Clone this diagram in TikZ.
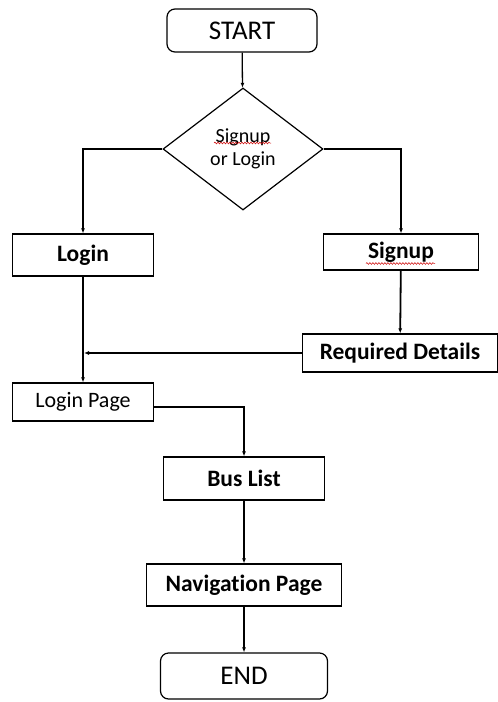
\documentclass[tikz,border=0pt]{standalone}
\usepackage{fontspec}
\setmainfont{Carlito}[Ligatures={NoCommon}]
\usetikzlibrary{shapes.geometric,arrows.meta,decorations.pathmorphing}
\tikzset{
  box/.style={draw, line width=1.2pt, inner sep=0pt, font=\fontsize{23.5}{26}\selectfont\bfseries},
  term/.style={draw, line width=1.2pt, rounded corners=8pt, inner sep=0pt, font=\fontsize{27}{30}\selectfont},
  dec/.style={draw, diamond, line width=1.2pt, inner sep=0pt, align=center, font=\fontsize{20}{23}\selectfont},
  conn/.style={line width=1.3pt, -{Latex[length=5pt,width=4pt]}},
  squig/.style={red!80!black, line width=0.5pt, decorate, decoration={snake, amplitude=0.9pt, segment length=3pt}}
}
\begin{document}
\begin{tikzpicture}[x=1pt,y=-1pt]
\useasboundingbox (0,0) rectangle (498,702);
\node[term, minimum width=150pt, minimum height=43pt] (start) at (242,30.5) {START};
\node[dec, minimum width=160pt, minimum height=122pt] (dec) at (243,149) {Signup\\or Login};
\node[box, minimum width=141pt, minimum height=42pt] (login) at (83,255) {Login};
\node[box, minimum width=155pt, minimum height=36pt] (signup) at (401,252) {Signup};
\node[box, minimum width=195pt, minimum height=38pt] (req) at (400,353) {Required Details};
\node[box, minimum width=141pt, minimum height=38pt, font=\fontsize{22}{26}\selectfont] (lpage) at (83,402) {Login Page};
\node[box, minimum width=161pt, minimum height=43pt] (bus) at (244,478.5) {Bus List};
\node[box, minimum width=195pt, minimum height=42pt] (nav) at (244,585) {Navigation Page};
\node[term, minimum width=167pt, minimum height=46pt] (end) at (244,676) {END};
\coordinate (j) at (83,353);
\draw[conn] (start) -- (dec);
\draw[conn] (dec.west) -| (login.north);
\draw[conn] (dec.east) -| (signup.north);
\draw[conn] (login) -- (lpage);
\draw[conn, line width=1.8pt] (signup) -- (req);
\draw[conn, line width=1.8pt] (req.west) -- ([xshift=1pt]j);
\draw[conn] ([yshift=-5pt]lpage.east) -| (bus.north);
\draw[conn] (bus) -- (nav);
\draw[conn] (nav) -- (end);
\draw[squig] (214,143) -- (271,143);
\draw[squig] (366,263.5) -- (435,263.5);
\end{tikzpicture}
\end{document}
